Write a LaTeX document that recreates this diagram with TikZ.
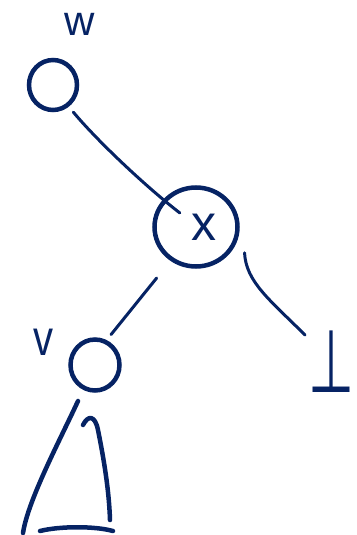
\documentclass[tikz,border=0pt]{standalone}
\usepackage{fontspec}
\setmainfont{Liberation Sans}
\newfontfamily\symf{DejaVu Sans}
\usetikzlibrary{shapes.geometric,calc}
\definecolor{ink}{RGB}{6,35,100}
\begin{document}
\begin{tikzpicture}[x=1pt,y=-1pt,
  inkline/.style={draw=ink, line cap=round, line join=round},
  vtx/.style={ellipse, draw=ink, line width=4.5pt, inner sep=0pt},
  lbl/.style={text=ink, inner sep=0pt, font=\fontsize{50}{50}\selectfont},
  edge/.style={inkline, line width=3pt},
  tri/.style={inkline, line width=4.5pt}]
\useasboundingbox (0,0) rectangle (356,535);
% vertices
\node[vtx, minimum width=48pt, minimum height=50pt] (w) at (53,85) {};
\node[vtx, minimum width=83pt, minimum height=79pt] (x) at (196,227) {};
\node[vtx, minimum width=49pt, minimum height=51pt] (v) at (95,365) {};
% labels
\node[lbl, font=\fontsize{42}{42}\selectfont] (wl) at (80,24) {w};
\node[lbl] (xl) at (204,227) {x};
\node[lbl] (vl) at (43,342) {\scalebox{0.8}[1]{v}};
\node[text=ink, inner sep=0pt, font=\symf\fontsize{88}{88}\selectfont] (bot) at (331,362) {\scalebox{0.6}[1]{⊥}};
% connectors
\draw[edge, shorten <=7pt] (w.-54) .. controls (100,144) and (150,190) .. ($(x.center)!0.5!(x.139)$);
\draw[edge, shorten <=22pt, shorten >=7pt] (x.-127) -- (v.65);
\coordinate (botend) at (305,335);
\draw[edge] ($(x.center)!1.27!(x.-28)$) .. controls (246,282) and (270,300) .. (botend);
% subtree triangle under v
\draw[tri] (78,401) .. controls (60,440) and (28,500) .. (23,533);
\draw[tri] (83,425) .. controls (88,415) and (95,415) .. (98,430)
  .. controls (104,460) and (109,490) .. (110,520);
\draw[tri] (40,531) .. controls (60,526) and (95,526) .. (113,531);
\end{tikzpicture}
\end{document}
